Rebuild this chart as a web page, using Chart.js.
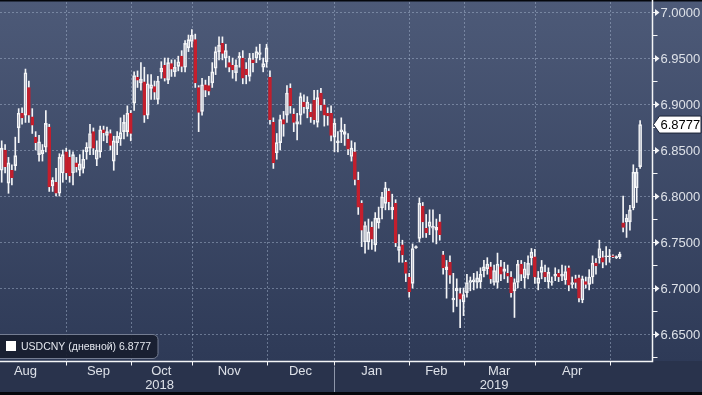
<!DOCTYPE html>
<html>
<head>
<meta charset="utf-8">
<title>USDCNY</title>
<script src="https://cdn.jsdelivr.net/npm/chart.js@4.4.1/dist/chart.umd.min.js"></script>
<style>
    html, body { margin: 0; padding: 0; background: #000; }
    #wrap { width: 702px; height: 395px; }
</style>
</head>
<body>
<div id="wrap"><canvas id="fxChart" width="702" height="395"></canvas></div>
<script>
// USDCNY daily candles, Aug 2018 - May 2019
const opens = [
    6.828, 6.850, 6.814, 6.828, 6.833, 6.874, 6.890, 6.888, 6.918, 6.886,
    6.864, 6.845, 6.846, 6.853, 6.875, 6.811, 6.815, 6.803, 6.825, 6.848,
    6.842, 6.825, 6.836, 6.828, 6.830, 6.848, 6.852, 6.870, 6.840, 6.848,
    6.872, 6.866, 6.868, 6.838, 6.858, 6.862, 6.870, 6.870, 6.890, 6.901,
    6.929, 6.923, 6.924, 6.888, 6.917, 6.919, 6.905, 6.935, 6.942, 6.926,
    6.944, 6.935, 6.941, 6.952, 6.940, 6.961, 6.968, 6.970, 6.918, 6.892,
    6.921, 6.920, 6.923, 6.939, 6.957, 6.966, 6.950, 6.945, 6.942, 6.934,
    6.950, 6.950, 6.938, 6.930, 6.948, 6.950, 6.954, 6.940, 6.946, 6.929,
    6.880, 6.847, 6.858, 6.883, 6.888, 6.917, 6.889, 6.878, 6.888, 6.902,
    6.895, 6.891, 6.904, 6.880, 6.912, 6.899, 6.890, 6.890, 6.864, 6.858,
    6.870, 6.867, 6.862, 6.843, 6.848, 6.817, 6.792, 6.750, 6.750, 6.766,
    6.747, 6.771, 6.787, 6.792, 6.805, 6.785, 6.792, 6.741, 6.747, 6.728,
    6.712, 6.705, 6.744, 6.754, 6.789, 6.765, 6.767, 6.765, 6.763, 6.772,
    6.736, 6.720, 6.728, 6.687, 6.697, 6.694, 6.685, 6.695, 6.706, 6.707,
    6.706, 6.707, 6.719, 6.721, 6.723, 6.706, 6.706, 6.723, 6.718, 6.716,
    6.712, 6.697, 6.706, 6.726, 6.711, 6.714, 6.733, 6.734, 6.705, 6.717,
    6.717, 6.707, 6.706, 6.713, 6.716, 6.713, 6.709, 6.722, 6.704, 6.710,
    6.711, 6.687, 6.707, 6.704, 6.712, 6.727, 6.733, 6.733, 6.734, 6.734,
    6.735, 6.733, 6.734, 6.771, 6.772, 6.772, 6.787, 6.809, 6.832
];
const highs = [
    6.860, 6.856, 6.842, 6.834, 6.864, 6.895, 6.896, 6.938, 6.925, 6.895,
    6.870, 6.866, 6.856, 6.893, 6.878, 6.820, 6.830, 6.846, 6.850, 6.852,
    6.850, 6.848, 6.842, 6.845, 6.850, 6.858, 6.878, 6.874, 6.860, 6.876,
    6.876, 6.875, 6.872, 6.865, 6.870, 6.885, 6.888, 6.898, 6.893, 6.935,
    6.936, 6.945, 6.940, 6.932, 6.932, 6.925, 6.930, 6.946, 6.950, 6.950,
    6.948, 6.948, 6.952, 6.958, 6.969, 6.975, 6.981, 6.976, 6.920, 6.928,
    6.926, 6.930, 6.945, 6.962, 6.973, 6.973, 6.965, 6.952, 6.950, 6.948,
    6.956, 6.958, 6.945, 6.955, 6.955, 6.962, 6.965, 6.950, 6.965, 6.936,
    6.885, 6.868, 6.888, 6.892, 6.920, 6.922, 6.895, 6.890, 6.912, 6.910,
    6.908, 6.900, 6.915, 6.915, 6.917, 6.905, 6.896, 6.898, 6.884, 6.870,
    6.885, 6.878, 6.868, 6.860, 6.858, 6.826, 6.795, 6.772, 6.775, 6.772,
    6.782, 6.788, 6.804, 6.815, 6.808, 6.802, 6.796, 6.758, 6.752, 6.730,
    6.716, 6.748, 6.746, 6.798, 6.793, 6.780, 6.785, 6.785, 6.775, 6.780,
    6.740, 6.730, 6.735, 6.716, 6.710, 6.700, 6.700, 6.715, 6.712, 6.716,
    6.718, 6.722, 6.730, 6.733, 6.728, 6.725, 6.738, 6.730, 6.728, 6.725,
    6.718, 6.710, 6.730, 6.730, 6.728, 6.735, 6.743, 6.742, 6.718, 6.730,
    6.725, 6.722, 6.712, 6.722, 6.720, 6.725, 6.724, 6.724, 6.712, 6.714,
    6.714, 6.713, 6.712, 6.720, 6.735, 6.732, 6.752, 6.740, 6.745, 6.742,
    6.736, 6.735, 6.739, 6.800, 6.780, 6.790, 6.834, 6.830, 6.882
];
const lows = [
    6.815, 6.825, 6.803, 6.812, 6.828, 6.858, 6.878, 6.880, 6.880, 6.868,
    6.850, 6.838, 6.838, 6.848, 6.805, 6.805, 6.800, 6.800, 6.815, 6.818,
    6.815, 6.812, 6.826, 6.822, 6.825, 6.840, 6.845, 6.845, 6.833, 6.842,
    6.860, 6.858, 6.850, 6.828, 6.845, 6.855, 6.862, 6.865, 6.860, 6.893,
    6.918, 6.915, 6.880, 6.884, 6.905, 6.905, 6.900, 6.928, 6.925, 6.922,
    6.930, 6.930, 6.936, 6.935, 6.935, 6.957, 6.962, 6.918, 6.870, 6.888,
    6.908, 6.910, 6.918, 6.932, 6.948, 6.948, 6.940, 6.935, 6.928, 6.925,
    6.940, 6.922, 6.922, 6.925, 6.935, 6.945, 6.948, 6.935, 6.940, 6.878,
    6.830, 6.840, 6.850, 6.865, 6.880, 6.890, 6.870, 6.861, 6.878, 6.890,
    6.885, 6.880, 6.878, 6.875, 6.893, 6.876, 6.877, 6.860, 6.848, 6.848,
    6.858, 6.855, 6.845, 6.838, 6.812, 6.780, 6.745, 6.738, 6.742, 6.742,
    6.740, 6.765, 6.775, 6.785, 6.785, 6.775, 6.745, 6.728, 6.728, 6.707,
    6.690, 6.700, 6.743, 6.750, 6.755, 6.755, 6.758, 6.750, 6.748, 6.752,
    6.715, 6.689, 6.705, 6.674, 6.680, 6.657, 6.670, 6.690, 6.697, 6.698,
    6.700, 6.700, 6.712, 6.715, 6.705, 6.703, 6.700, 6.708, 6.710, 6.706,
    6.690, 6.668, 6.700, 6.708, 6.700, 6.710, 6.725, 6.705, 6.698, 6.710,
    6.707, 6.700, 6.703, 6.708, 6.707, 6.708, 6.704, 6.697, 6.700, 6.700,
    6.685, 6.684, 6.700, 6.698, 6.705, 6.715, 6.727, 6.722, 6.725, 6.728,
    6.733, 6.732, 6.732, 6.761, 6.755, 6.763, 6.785, 6.793, 6.830
];
const closes = [
    6.852, 6.832, 6.836, 6.820, 6.844, 6.890, 6.885, 6.934, 6.888, 6.877,
    6.858, 6.859, 6.850, 6.879, 6.810, 6.817, 6.803, 6.842, 6.845, 6.825,
    6.822, 6.845, 6.832, 6.835, 6.840, 6.853, 6.868, 6.852, 6.850, 6.872,
    6.869, 6.870, 6.855, 6.860, 6.865, 6.869, 6.880, 6.890, 6.868, 6.931,
    6.926, 6.927, 6.888, 6.922, 6.921, 6.913, 6.925, 6.939, 6.928, 6.945,
    6.938, 6.940, 6.946, 6.941, 6.966, 6.970, 6.975, 6.923, 6.891, 6.921,
    6.915, 6.914, 6.935, 6.957, 6.964, 6.955, 6.958, 6.940, 6.937, 6.942,
    6.952, 6.928, 6.932, 6.950, 6.945, 6.957, 6.956, 6.944, 6.961, 6.883,
    6.836, 6.858, 6.883, 6.878, 6.912, 6.898, 6.880, 6.881, 6.908, 6.897,
    6.902, 6.886, 6.883, 6.907, 6.899, 6.888, 6.887, 6.866, 6.879, 6.860,
    6.872, 6.870, 6.851, 6.852, 6.818, 6.788, 6.763, 6.768, 6.761, 6.753,
    6.776, 6.776, 6.799, 6.809, 6.794, 6.788, 6.749, 6.745, 6.736, 6.716,
    6.696, 6.743, 6.745, 6.792, 6.772, 6.760, 6.772, 6.767, 6.766, 6.758,
    6.722, 6.723, 6.714, 6.689, 6.700, 6.688, 6.693, 6.706, 6.708, 6.709,
    6.711, 6.715, 6.723, 6.726, 6.710, 6.719, 6.726, 6.715, 6.721, 6.713,
    6.695, 6.706, 6.726, 6.715, 6.721, 6.727, 6.739, 6.712, 6.711, 6.723,
    6.712, 6.717, 6.707, 6.715, 6.712, 6.715, 6.718, 6.703, 6.706, 6.706,
    6.689, 6.710, 6.704, 6.712, 6.727, 6.724, 6.743, 6.728, 6.735, 6.735,
    6.734, 6.734, 6.737, 6.766, 6.776, 6.785, 6.826, 6.826, 6.8777
];

// x axis: month names and the candle index each month's gridline sits on
const monthNames = ['Aug', 'Sep', 'Oct', 'Nov', 'Dec', 'Jan', 'Feb', 'Mar', 'Apr'];
const monthStarts = [-5, 19, 38, 56, 78, 98, 120, 136, 157, 179];
const yearNames = ['2018', '2019'];
const yearStarts = [-5, 98, 192];
const slotCount = 192;

// y axis labels
const yTicks = [6.65, 6.70, 6.75, 6.80, 6.85, 6.90, 6.95, 7.00];
const yMinorTicks = [6.625, 6.675, 6.725, 6.775, 6.825, 6.875, 6.925, 6.975];

const seriesName = 'USDCNY (дневной)';
const lastValue = closes[closes.length - 1];

const RED = '#c41f2d';
const WHITE = '#f4f5f7';
const TEXT = '#dde1e8';
const FONT = '"Liberation Sans", Arial, sans-serif';

document.addEventListener('DOMContentLoaded', function() {
    drawChart();
});

// Background, gridlines and the Bloomberg-style axis furniture
const terminalLook = {
    id: 'terminalLook',
    beforeDraw(chart) {
        const ctx = chart.ctx;
        const area = chart.chartArea;
        ctx.save();
        ctx.fillStyle = '#29334c';
        ctx.fillRect(0, 0, chart.width, chart.height);
        const grad = ctx.createLinearGradient(0, 0, 0, area.bottom);
        grad.addColorStop(0, '#4d5a78');
        grad.addColorStop(1, '#2e3a57');
        ctx.fillStyle = grad;
        ctx.fillRect(0, 0, chart.width, area.bottom);
        ctx.fillStyle = '#05070c';
        ctx.fillRect(0, 0, chart.width, 1.5);
        ctx.fillRect(0, chart.height - 3, chart.width, 3);
        ctx.restore();
    },
    beforeDatasetsDraw(chart) {
        const ctx = chart.ctx;
        const area = chart.chartArea;
        const xs = chart.scales.x;
        const ys = chart.scales.y;
        ctx.save();
        ctx.strokeStyle = 'rgba(175, 190, 215, 0.45)';
        ctx.lineWidth = 1;
        ctx.setLineDash([2, 2]);
        yTicks.forEach(function(v) {
            const y = Math.round(ys.getPixelForValue(v)) + 0.5;
            ctx.beginPath();
            ctx.moveTo(area.left, y);
            ctx.lineTo(area.right, y);
            ctx.stroke();
        });
        monthStarts.forEach(function(idx) {
            if (idx < 0) return;
            const x = Math.round(xs.getPixelForValue(idx)) + 0.5;
            ctx.beginPath();
            ctx.moveTo(x, area.top);
            ctx.lineTo(x, area.bottom);
            ctx.stroke();
        });
        ctx.restore();
    },
    afterDraw(chart) {
        const ctx = chart.ctx;
        const area = chart.chartArea;
        const xs = chart.scales.x;
        const ys = chart.scales.y;
        const axisX = Math.round(area.right) + 0.5;
        const axisY = Math.round(area.bottom) + 0.5;

        ctx.save();
        // axis lines
        ctx.strokeStyle = WHITE;
        ctx.lineWidth = 1.5;
        ctx.beginPath();
        ctx.moveTo(axisX, 0);
        ctx.lineTo(axisX, axisY);
        ctx.lineTo(0, axisY);
        ctx.stroke();

        // y ticks
        ctx.lineWidth = 1;
        yMinorTicks.forEach(function(v) {
            const y = Math.round(ys.getPixelForValue(v)) + 0.5;
            ctx.beginPath();
            ctx.moveTo(axisX, y);
            ctx.lineTo(axisX + 5, y);
            ctx.stroke();
        });
        ctx.fillStyle = WHITE;
        ctx.font = '13px ' + FONT;
        ctx.textBaseline = 'middle';
        ctx.textAlign = 'left';
        yTicks.forEach(function(v) {
            const y = Math.round(ys.getPixelForValue(v)) + 0.5;
            ctx.beginPath();
            ctx.moveTo(axisX, y);
            ctx.lineTo(axisX + 3, y);
            ctx.stroke();
            ctx.beginPath();
            ctx.moveTo(axisX + 2.5, y - 3.5);
            ctx.lineTo(axisX + 7, y);
            ctx.lineTo(axisX + 2.5, y + 3.5);
            ctx.closePath();
            ctx.fill();
        });
        ctx.fillStyle = TEXT;
        yTicks.forEach(function(v) {
            ctx.fillText(v.toFixed(4), axisX + 8, ys.getPixelForValue(v) + 1);
        });

        // month ticks, labels and the year split
        ctx.strokeStyle = WHITE;
        monthStarts.forEach(function(idx) {
            if (idx < 0) return;
            const x = Math.round(xs.getPixelForValue(idx)) + 0.5;
            ctx.beginPath();
            ctx.moveTo(x, axisY);
            ctx.lineTo(x, axisY + 4);
            ctx.stroke();
        });
        ctx.textAlign = 'center';
        monthNames.forEach(function(name, i) {
            const mid = (monthStarts[i] + monthStarts[i + 1]) / 2;
            ctx.fillText(name, xs.getPixelForValue(mid), axisY + 10);
        });
        yearNames.forEach(function(name, i) {
            const mid = (yearStarts[i] + yearStarts[i + 1]) / 2;
            ctx.fillText(name, xs.getPixelForValue(mid), axisY + 24);
        });
        const splitX = Math.round(xs.getPixelForValue(yearStarts[1])) + 0.5;
        ctx.strokeStyle = '#8e97aa';
        ctx.beginPath();
        ctx.moveTo(splitX, axisY + 5);
        ctx.lineTo(splitX, chart.height - 3);
        ctx.stroke();

        // last value tag
        const vy = ys.getPixelForValue(lastValue);
        ctx.fillStyle = '#ffffff';
        ctx.strokeStyle = '#1c2336';
        ctx.beginPath();
        ctx.moveTo(axisX + 1, vy);
        ctx.lineTo(axisX + 7, vy - 8.5);
        ctx.lineTo(chart.width - 1, vy - 8.5);
        ctx.lineTo(chart.width - 1, vy + 8.5);
        ctx.lineTo(axisX + 7, vy + 8.5);
        ctx.closePath();
        ctx.fill();
        ctx.stroke();
        ctx.fillStyle = '#000000';
        ctx.textAlign = 'left';
        ctx.fillText(lastValue.toFixed(4), axisX + 8, vy + 1);

        // legend box
        ctx.fillStyle = 'rgba(24, 30, 47, 0.92)';
        ctx.strokeStyle = '#747d92';
        ctx.beginPath();
        ctx.roundRect(-6, 334.5, 164, 24, 5);
        ctx.fill();
        ctx.stroke();
        ctx.fillStyle = '#ffffff';
        ctx.fillRect(6, 341, 10, 10);
        ctx.fillStyle = '#e4e7ee';
        ctx.font = '10.5px ' + FONT;
        ctx.fillText(seriesName + ' ' + lastValue.toFixed(4), 21, 347);
        ctx.restore();
    }
};

function drawChart() {
    const days = Array.from({ length: slotCount }, (_, i) => String(i + 1));
    const isUp = closes.map((c, i) => c >= opens[i]);
    const bodies = opens.map((o, i) => [o, closes[i]]);
    const upperWicks = highs.map((h, i) => [Math.max(opens[i], closes[i]), h]);
    const lowerWicks = lows.map((l, i) => [l, Math.min(opens[i], closes[i])]);

    const ctx = document.getElementById('fxChart').getContext('2d');
    new Chart(ctx, {
        type: 'bar',
        data: {
            labels: days,
            datasets: [{
                label: 'body',
                data: bodies,
                backgroundColor: isUp.map(u => u ? 'rgba(0,0,0,0)' : RED),
                borderColor: isUp.map(u => u ? WHITE : RED),
                borderWidth: 1,
                borderSkipped: false,
                barThickness: 3,
                minBarLength: 1,
                grouped: false,
                order: 0
            }, {
                label: 'upper',
                data: upperWicks,
                backgroundColor: WHITE,
                borderWidth: 0,
                barThickness: 1,
                grouped: false,
                order: 1
            }, {
                label: 'lower',
                data: lowerWicks,
                backgroundColor: WHITE,
                borderWidth: 0,
                barThickness: 1,
                grouped: false,
                order: 1
            }]
        },
        options: {
            responsive: false,
            animation: false,
            devicePixelRatio: 1,
            events: [],
            layout: { padding: { top: 2, left: 0, right: 0, bottom: 0 } },
            plugins: {
                legend: { display: false },
                tooltip: { enabled: false }
            },
            scales: {
                x: {
                    type: 'category',
                    offset: true,
                    grid: { display: false },
                    ticks: { display: false, autoSkip: false },
                    border: { display: false },
                    afterFit(scale) { scale.height = 34; }
                },
                y: {
                    position: 'right',
                    min: 6.6207,
                    max: 7.0109,
                    grid: { display: false },
                    ticks: { display: false },
                    border: { display: false },
                    afterFit(scale) { scale.width = 50; }
                }
            }
        },
        plugins: [terminalLook]
    });
}
</script>
</body>
</html>
